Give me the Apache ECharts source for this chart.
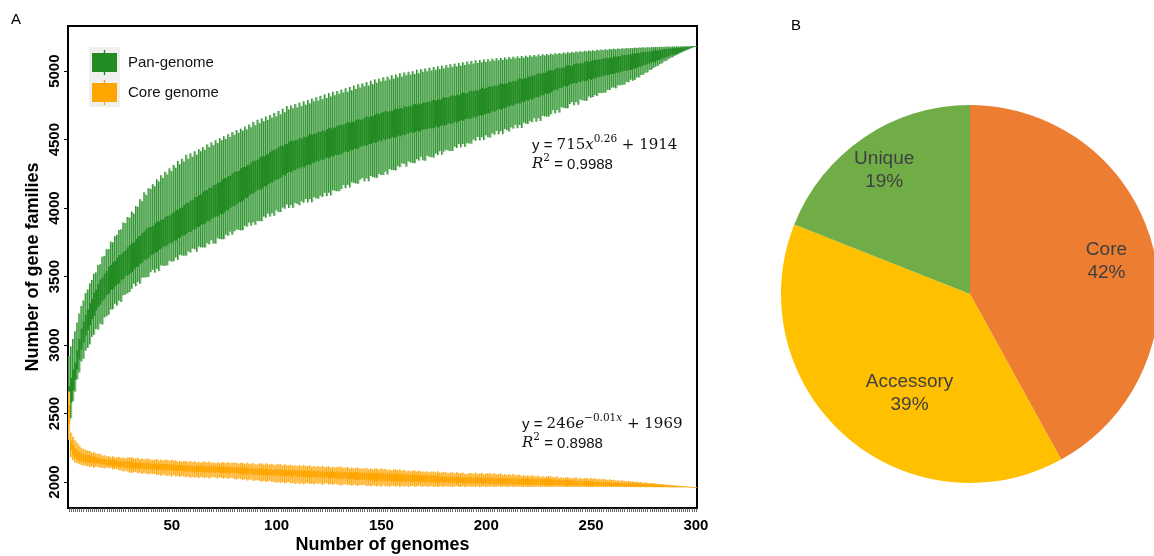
<!DOCTYPE html>
<html>
<head>
<meta charset="utf-8">
<script src="https://cdn.jsdelivr.net/npm/echarts@6/dist/echarts.min.js"></script>
<style>
  html, body { margin: 0; padding: 0; background: #fff; overflow: hidden; }
  #main { position: absolute; left: 0; top: 0; width: 1154px; height: 556px; }
</style>
</head>
<body>
<div id="main"></div>
<script>
// ---------- Panel A: accumulation curves (one box per number of genomes) ----------
const genomes = Array.from({ length: 300 }, (_, i) => String(i + 1));
const xLabelEvery = 50;
const yTicks = [2000, 2500, 3000, 3500, 4000, 4500, 5000];

// Pan-genome: whisker low, first quartile, third quartile, whisker high
const panLow = [
  2330, 2465, 2590, 2660, 2750, 2800, 2880, 2900, 2960, 2980,
  3005, 3060, 3075, 3118, 3113, 3156, 3150, 3202, 3210, 3222,
  3260, 3262, 3302, 3289, 3324, 3315, 3364, 3369, 3378, 3388,
  3411, 3447, 3430, 3461, 3448, 3493, 3494, 3495, 3498, 3532,
  3550, 3529, 3557, 3540, 3582, 3579, 3580, 3582, 3616, 3610,
  3612, 3639, 3622, 3660, 3655, 3653, 3653, 3684, 3676, 3705,
  3700, 3681, 3719, 3714, 3713, 3712, 3744, 3736, 3766, 3742,
  3741, 3780, 3774, 3773, 3773, 3806, 3798, 3828, 3806, 3831,
  3844, 3840, 3839, 3839, 3872, 3864, 3894, 3872, 3897, 3878,
  3906, 3905, 3905, 3938, 3930, 3960, 3938, 3963, 3944, 3984,
  3971, 3971, 4004, 3996, 4026, 4001, 4023, 4002, 4038, 4031,
  4021, 4050, 4040, 4067, 4042, 4065, 4043, 4080, 4072, 4069,
  4091, 4082, 4112, 4088, 4113, 4093, 4131, 4126, 4124, 4124,
  4140, 4169, 4146, 4170, 4151, 4189, 4183, 4180, 4178, 4208,
  4220, 4195, 4218, 4197, 4234, 4227, 4223, 4221, 4251, 4242,
  4242, 4266, 4246, 4285, 4279, 4277, 4276, 4308, 4299, 4328,
  4323, 4303, 4341, 4334, 4330, 4328, 4357, 4347, 4375, 4349,
  4346, 4382, 4375, 4372, 4369, 4399, 4388, 4416, 4390, 4414,
  4426, 4420, 4418, 4417, 4448, 4439, 4468, 4444, 4468, 4448,
  4474, 4472, 4471, 4502, 4492, 4520, 4495, 4518, 4497, 4533,
  4518, 4516, 4546, 4536, 4564, 4539, 4562, 4540, 4577, 4570,
  4560, 4590, 4581, 4609, 4584, 4607, 4586, 4624, 4617, 4614,
  4637, 4627, 4656, 4631, 4656, 4637, 4675, 4670, 4669, 4669,
  4686, 4715, 4692, 4717, 4698, 4737, 4731, 4730, 4730, 4761,
  4775, 4751, 4775, 4755, 4793, 4787, 4785, 4784, 4815, 4806,
  4811, 4826, 4819, 4841, 4840, 4842, 4845, 4864, 4862, 4881,
  4881, 4875, 4897, 4897, 4900, 4902, 4921, 4920, 4938, 4930,
  4937, 4955, 4954, 4972, 4974, 4989, 4991, 5008, 5012, 5025,
  5035, 5039, 5052, 5058, 5072, 5076, 5088, 5098, 5102, 5112,
  5119, 5127, 5134, 5142, 5150, 5156, 5163, 5169, 5176, 5182
];
const panQ1 = [
  2480, 2580, 2670, 2745, 2820, 2895, 2965, 3020, 3070, 3110,
  3147, 3190, 3214, 3252, 3279, 3295, 3323, 3338, 3366, 3376,
  3405, 3408, 3430, 3446, 3451, 3473, 3482, 3504, 3508, 3523,
  3533, 3554, 3569, 3573, 3594, 3602, 3623, 3624, 3636, 3655,
  3663, 3676, 3678, 3697, 3703, 3720, 3719, 3729, 3746, 3744,
  3763, 3763, 3780, 3784, 3801, 3800, 3810, 3827, 3825, 3842,
  3845, 3861, 3865, 3881, 3880, 3889, 3906, 3903, 3920, 3930,
  3938, 3941, 3958, 3956, 3967, 3985, 3984, 4002, 4014, 4015,
  4028, 4046, 4046, 4057, 4075, 4074, 4092, 4104, 4105, 4122,
  4134, 4133, 4143, 4160, 4158, 4175, 4186, 4186, 4203, 4207,
  4214, 4224, 4241, 4239, 4257, 4265, 4262, 4276, 4277, 4291,
  4288, 4302, 4297, 4311, 4319, 4316, 4330, 4331, 4345, 4341,
  4355, 4349, 4362, 4369, 4365, 4378, 4378, 4391, 4386, 4392,
  4394, 4407, 4414, 4410, 4423, 4423, 4436, 4431, 4437, 4450,
  4452, 4459, 4455, 4468, 4468, 4481, 4476, 4482, 4495, 4488,
  4502, 4497, 4509, 4508, 4520, 4514, 4519, 4531, 4524, 4536,
  4533, 4545, 4544, 4556, 4549, 4554, 4565, 4558, 4569, 4575,
  4577, 4576, 4587, 4581, 4585, 4597, 4589, 4601, 4606, 4601,
  4608, 4620, 4614, 4619, 4631, 4624, 4636, 4642, 4637, 4649,
  4656, 4650, 4655, 4667, 4660, 4673, 4680, 4675, 4688, 4688,
  4691, 4697, 4709, 4703, 4716, 4723, 4719, 4731, 4731, 4744,
  4740, 4753, 4747, 4760, 4767, 4763, 4776, 4776, 4789, 4784,
  4798, 4792, 4805, 4812, 4809, 4823, 4824, 4838, 4834, 4841,
  4844, 4858, 4866, 4863, 4877, 4878, 4892, 4888, 4895, 4907,
  4908, 4914, 4909, 4921, 4920, 4932, 4926, 4931, 4943, 4936,
  4948, 4947, 4957, 4957, 4964, 4964, 4972, 4970, 4978, 4979,
  4982, 4990, 4988, 4996, 4997, 5004, 5003, 5012, 5009, 5018,
  5022, 5023, 5034, 5033, 5044, 5046, 5055, 5056, 5067, 5066,
  5075, 5082, 5085, 5093, 5095, 5103, 5107, 5116, 5118, 5125,
  5131, 5136, 5142, 5148, 5154, 5159, 5165, 5171, 5176, 5182
];
const panQ3 = [
  2700, 2760, 2820, 2870, 2960, 3045, 3120, 3170, 3220, 3260,
  3305, 3336, 3382, 3404, 3443, 3477, 3492, 3520, 3540, 3574,
  3586, 3607, 3614, 3638, 3657, 3662, 3680, 3690, 3714, 3730,
  3744, 3749, 3775, 3792, 3797, 3818, 3830, 3849, 3860, 3862,
  3869, 3888, 3902, 3902, 3915, 3917, 3936, 3945, 3946, 3960,
  3971, 3985, 3987, 4000, 4005, 4024, 4037, 4038, 4054, 4057,
  4082, 4082, 4095, 4100, 4119, 4130, 4131, 4147, 4149, 4168,
  4172, 4185, 4190, 4209, 4219, 4219, 4234, 4235, 4253, 4266,
  4268, 4272, 4290, 4300, 4300, 4315, 4316, 4334, 4347, 4345,
  4352, 4369, 4379, 4378, 4393, 4393, 4411, 4423, 4422, 4433,
  4445, 4455, 4454, 4469, 4469, 4483, 4493, 4488, 4496, 4497,
  4512, 4508, 4520, 4517, 4531, 4541, 4536, 4544, 4545, 4559,
  4556, 4567, 4563, 4577, 4586, 4581, 4588, 4588, 4602, 4607,
  4609, 4606, 4619, 4628, 4623, 4630, 4630, 4644, 4649, 4645,
  4647, 4661, 4670, 4664, 4672, 4671, 4685, 4691, 4686, 4696,
  4701, 4709, 4703, 4710, 4709, 4722, 4727, 4722, 4731, 4727,
  4744, 4738, 4745, 4743, 4756, 4760, 4755, 4764, 4760, 4772,
  4769, 4776, 4774, 4787, 4791, 4786, 4795, 4791, 4803, 4811,
  4808, 4806, 4819, 4824, 4819, 4828, 4824, 4837, 4845, 4838,
  4840, 4853, 4858, 4852, 4862, 4858, 4870, 4878, 4872, 4878,
  4886, 4891, 4885, 4895, 4891, 4903, 4911, 4905, 4911, 4910,
  4924, 4919, 4930, 4926, 4939, 4948, 4942, 4949, 4949, 4962,
  4958, 4969, 4965, 4978, 4986, 4981, 4988, 4987, 5001, 5006,
  5007, 5004, 5017, 5025, 5020, 5027, 5026, 5040, 5045, 5039,
  5040, 5052, 5060, 5053, 5059, 5057, 5069, 5073, 5067, 5076,
  5080, 5084, 5082, 5087, 5087, 5094, 5098, 5095, 5101, 5099,
  5108, 5105, 5110, 5109, 5117, 5120, 5118, 5123, 5122, 5129,
  5128, 5132, 5131, 5138, 5142, 5139, 5144, 5142, 5149, 5153,
  5152, 5152, 5157, 5157, 5162, 5163, 5164, 5167, 5168, 5168,
  5170, 5172, 5173, 5174, 5176, 5177, 5178, 5180, 5181, 5182
];
const panHigh = [
  2920, 2990, 3045, 3100, 3165, 3230, 3285, 3325, 3380, 3405,
  3450, 3475, 3520, 3530, 3585, 3590, 3645, 3650, 3700, 3700,
  3755, 3750, 3795, 3805, 3840, 3845, 3895, 3890, 3935, 3930,
  3975, 3960, 4015, 4010, 4065, 4050, 4115, 4095, 4145, 4140,
  4175, 4160, 4210, 4195, 4240, 4220, 4265, 4245, 4290, 4270,
  4315, 4295, 4345, 4320, 4360, 4340, 4390, 4360, 4400, 4375,
  4415, 4390, 4430, 4415, 4445, 4425, 4465, 4445, 4480, 4460,
  4495, 4475, 4510, 4495, 4525, 4505, 4540, 4520, 4555, 4535,
  4570, 4550, 4580, 4565, 4595, 4575, 4610, 4590, 4630, 4605,
  4645, 4620, 4655, 4635, 4670, 4645, 4680, 4660, 4695, 4670,
  4710, 4685, 4725, 4700, 4745, 4720, 4750, 4730, 4760, 4735,
  4770, 4745, 4780, 4755, 4790, 4765, 4800, 4780, 4810, 4785,
  4820, 4795, 4830, 4805, 4840, 4815, 4850, 4825, 4855, 4835,
  4865, 4845, 4875, 4850, 4885, 4860, 4895, 4870, 4905, 4880,
  4910, 4890, 4920, 4895, 4930, 4905, 4940, 4915, 4945, 4925,
  4955, 4930, 4960, 4940, 4970, 4945, 4975, 4955, 4985, 4960,
  4990, 4970, 4995, 4975, 5000, 4980, 5010, 4985, 5015, 4995,
  5020, 5000, 5025, 5005, 5030, 5010, 5035, 5015, 5040, 5020,
  5045, 5025, 5050, 5030, 5055, 5035, 5060, 5040, 5065, 5045,
  5070, 5050, 5075, 5055, 5080, 5060, 5082, 5065, 5086, 5068,
  5088, 5072, 5091, 5076, 5094, 5080, 5097, 5083, 5100, 5086,
  5103, 5090, 5106, 5093, 5108, 5096, 5111, 5099, 5113, 5102,
  5116, 5105, 5118, 5108, 5121, 5111, 5123, 5114, 5126, 5117,
  5128, 5120, 5131, 5123, 5133, 5126, 5136, 5129, 5139, 5132,
  5141, 5135, 5144, 5138, 5146, 5140, 5149, 5143, 5151, 5146,
  5153, 5148, 5156, 5151, 5158, 5153, 5160, 5155, 5162, 5158,
  5164, 5160, 5166, 5162, 5167, 5164, 5169, 5166, 5170, 5168,
  5172, 5169, 5173, 5171, 5174, 5172, 5175, 5173, 5176, 5175,
  5177, 5176, 5178, 5177, 5179, 5178, 5180, 5179, 5180, 5180,
  5181, 5181, 5181, 5182, 5182, 5182, 5182, 5182, 5182, 5182
];

// Core genome: whisker low, first quartile, third quartile, whisker high
const coreLow = [
  2310, 2180, 2160, 2145, 2138, 2130, 2125, 2121, 2118, 2115,
  2109, 2114, 2104, 2111, 2112, 2103, 2106, 2099, 2106, 2101,
  2103, 2091, 2096, 2096, 2085, 2086, 2077, 2083, 2076, 2069,
  2066, 2072, 2074, 2064, 2067, 2059, 2067, 2061, 2056, 2061,
  2059, 2060, 2051, 2053, 2046, 2054, 2049, 2044, 2050, 2040,
  2050, 2041, 2044, 2037, 2045, 2040, 2035, 2041, 2031, 2038,
  2032, 2036, 2029, 2038, 2034, 2029, 2036, 2026, 2034, 2037,
  2032, 2026, 2035, 2030, 2026, 2032, 2023, 2030, 2031, 2022,
  2018, 2026, 2021, 2015, 2021, 2011, 2017, 2019, 2009, 2012,
  2014, 2008, 2003, 2009, 1999, 2006, 2008, 1999, 2002, 1995,
  1999, 1994, 2000, 1990, 1997, 1999, 1990, 1993, 1986, 1995,
  1986, 1993, 1984, 1991, 1994, 1985, 1989, 1983, 1991, 1987,
  1990, 1980, 1988, 1990, 1982, 1985, 1979, 1987, 1983, 1978,
  1975, 1983, 1985, 1977, 1980, 1973, 1982, 1977, 1973, 1979,
  1977, 1980, 1971, 1975, 1968, 1976, 1972, 1968, 1974, 1965,
  1976, 1968, 1971, 1965, 1974, 1970, 1966, 1972, 1963, 1971,
  1967, 1972, 1965, 1969, 1971, 1965, 1968, 1972, 1967, 1965,
  1971, 1965, 1967, 1971, 1964, 1968, 1963, 1969, 1967, 1965,
  1969, 1965, 1968, 1964, 1967, 1970, 1964, 1966, 1968, 1963,
  1966, 1969, 1964, 1967, 1965, 1968, 1963, 1966, 1969, 1964,
  1966, 1964, 1968, 1963, 1966, 1968, 1964, 1965, 1967, 1963,
  1965, 1967, 1963, 1966, 1964, 1967, 1963, 1965, 1966, 1963,
  1964, 1966, 1963, 1965, 1967, 1963, 1964, 1966, 1963, 1965,
  1963, 1965, 1964, 1966, 1963, 1964, 1965, 1963, 1964, 1963,
  1964, 1963, 1965, 1963, 1964, 1963, 1965, 1963, 1963, 1964,
  1963, 1964, 1963, 1963, 1964, 1963, 1963, 1964, 1963, 1963,
  1963, 1963, 1964, 1963, 1963, 1962, 1963, 1963, 1962, 1963,
  1962, 1963, 1962, 1962, 1963, 1962, 1962, 1962, 1963, 1962,
  1962, 1962, 1962, 1962, 1962, 1962, 1962, 1962, 1962, 1962,
  1962, 1962, 1962, 1962, 1962, 1962, 1962, 1962, 1962, 1962
];
const coreQ1 = [
  2420, 2230, 2200, 2175, 2165, 2155, 2148, 2145, 2143, 2142,
  2139, 2143, 2135, 2137, 2136, 2128, 2128, 2129, 2121, 2118,
  2120, 2111, 2115, 2115, 2107, 2109, 2111, 2104, 2102, 2100,
  2097, 2101, 2102, 2095, 2097, 2100, 2094, 2093, 2092, 2096,
  2093, 2094, 2087, 2089, 2092, 2086, 2084, 2083, 2087, 2079,
  2085, 2078, 2080, 2084, 2078, 2076, 2075, 2079, 2071, 2075,
  2070, 2073, 2076, 2071, 2069, 2069, 2073, 2066, 2070, 2072,
  2069, 2072, 2067, 2065, 2065, 2069, 2062, 2066, 2067, 2060,
  2066, 2060, 2058, 2057, 2061, 2053, 2057, 2059, 2052, 2054,
  2052, 2050, 2049, 2053, 2046, 2050, 2051, 2045, 2047, 2050,
  2043, 2043, 2047, 2039, 2044, 2045, 2038, 2041, 2044, 2038,
  2037, 2041, 2033, 2038, 2039, 2033, 2035, 2038, 2033, 2031,
  2035, 2028, 2032, 2034, 2027, 2029, 2032, 2026, 2024, 2023,
  2021, 2025, 2026, 2019, 2021, 2024, 2018, 2016, 2015, 2019,
  2016, 2018, 2011, 2013, 2016, 2010, 2008, 2007, 2012, 2004,
  2011, 2004, 2006, 2010, 2004, 2003, 2002, 2007, 1999, 2004,
  1999, 2002, 2005, 2000, 1999, 1998, 2003, 1995, 2000, 2001,
  1998, 2002, 1996, 1995, 1994, 1999, 1991, 1996, 1998, 1991,
  1998, 1992, 1991, 1991, 1995, 1988, 1993, 1994, 1988, 1991,
  1989, 1988, 1988, 1992, 1985, 1990, 1991, 1985, 1988, 1991,
  1985, 1985, 1989, 1982, 1987, 1988, 1982, 1985, 1988, 1983,
  1982, 1986, 1979, 1984, 1985, 1979, 1982, 1986, 1980, 1979,
  1984, 1976, 1981, 1983, 1977, 1979, 1983, 1978, 1976, 1976,
  1974, 1979, 1980, 1974, 1977, 1980, 1975, 1974, 1974, 1978,
  1976, 1978, 1971, 1974, 1978, 1973, 1971, 1971, 1976, 1968,
  1974, 1971, 1971, 1973, 1970, 1972, 1969, 1972, 1970, 1968,
  1970, 1969, 1968, 1969, 1968, 1969, 1967, 1966, 1968, 1967,
  1966, 1966, 1966, 1965, 1965, 1965, 1964, 1964, 1964, 1964,
  1964, 1963, 1963, 1963, 1963, 1963, 1962, 1962, 1962, 1962,
  1962, 1962, 1962, 1962, 1962, 1962, 1962, 1962, 1962, 1962
];
const coreQ3 = [
  2560, 2300, 2270, 2245, 2232, 2220, 2210, 2203, 2198, 2195,
  2193, 2184, 2187, 2177, 2178, 2171, 2174, 2169, 2165, 2167,
  2159, 2163, 2155, 2157, 2150, 2155, 2151, 2148, 2151, 2149,
  2149, 2141, 2144, 2138, 2143, 2140, 2138, 2141, 2140, 2134,
  2132, 2135, 2129, 2134, 2131, 2129, 2132, 2131, 2126, 2131,
  2127, 2121, 2126, 2123, 2121, 2124, 2124, 2118, 2123, 2115,
  2113, 2119, 2116, 2115, 2118, 2118, 2112, 2118, 2110, 2114,
  2115, 2112, 2111, 2114, 2114, 2108, 2114, 2106, 2109, 2103,
  2106, 2104, 2107, 2106, 2100, 2105, 2097, 2101, 2095, 2100,
  2096, 2099, 2098, 2092, 2098, 2090, 2093, 2088, 2093, 2091,
  2093, 2092, 2087, 2092, 2084, 2088, 2082, 2088, 2085, 2083,
  2087, 2081, 2086, 2079, 2082, 2077, 2082, 2079, 2078, 2081,
  2075, 2081, 2073, 2077, 2071, 2077, 2074, 2073, 2076, 2076,
  2076, 2069, 2073, 2067, 2073, 2070, 2069, 2073, 2072, 2067,
  2065, 2069, 2064, 2069, 2067, 2065, 2069, 2068, 2063, 2068,
  2064, 2059, 2064, 2061, 2060, 2063, 2062, 2057, 2062, 2054,
  2052, 2057, 2054, 2053, 2056, 2055, 2049, 2054, 2046, 2049,
  2049, 2047, 2045, 2048, 2047, 2041, 2046, 2038, 2041, 2036,
  2039, 2037, 2040, 2040, 2034, 2040, 2033, 2036, 2031, 2036,
  2033, 2037, 2036, 2031, 2037, 2029, 2033, 2028, 2033, 2031,
  2034, 2033, 2028, 2034, 2026, 2030, 2025, 2030, 2028, 2026,
  2030, 2025, 2030, 2023, 2027, 2021, 2027, 2024, 2023, 2027,
  2021, 2027, 2020, 2023, 2018, 2023, 2021, 2020, 2023, 2023,
  2023, 2015, 2019, 2013, 2018, 2015, 2013, 2016, 2015, 2010,
  2008, 2011, 2005, 2010, 2007, 2006, 2009, 2008, 2002, 2007,
  2003, 2000, 2003, 2000, 1998, 2001, 2000, 1997, 1999, 1994,
  1994, 1996, 1994, 1993, 1995, 1993, 1991, 1993, 1990, 1991,
  1990, 1988, 1989, 1987, 1986, 1987, 1985, 1986, 1984, 1983,
  1981, 1980, 1979, 1977, 1976, 1975, 1974, 1972, 1971, 1970,
  1969, 1968, 1968, 1967, 1966, 1965, 1964, 1963, 1963, 1962
];
const coreHigh = [
  2660, 2360, 2330, 2305, 2285, 2265, 2250, 2240, 2235, 2228,
  2226, 2214, 2218, 2206, 2205, 2206, 2192, 2196, 2186, 2190,
  2180, 2188, 2179, 2180, 2184, 2173, 2179, 2172, 2178, 2179,
  2180, 2171, 2172, 2176, 2165, 2171, 2164, 2170, 2170, 2162,
  2162, 2163, 2167, 2157, 2163, 2156, 2162, 2162, 2154, 2162,
  2155, 2159, 2148, 2154, 2147, 2153, 2153, 2145, 2153, 2145,
  2151, 2141, 2147, 2141, 2147, 2148, 2140, 2149, 2140, 2142,
  2137, 2143, 2137, 2143, 2144, 2136, 2145, 2137, 2138, 2143,
  2139, 2133, 2139, 2140, 2132, 2141, 2132, 2134, 2138, 2128,
  2128, 2135, 2135, 2127, 2136, 2127, 2128, 2133, 2122, 2128,
  2129, 2129, 2121, 2129, 2121, 2122, 2126, 2116, 2122, 2115,
  2123, 2115, 2124, 2115, 2116, 2121, 2110, 2117, 2110, 2116,
  2110, 2118, 2109, 2111, 2115, 2104, 2111, 2104, 2110, 2111,
  2112, 2103, 2105, 2109, 2098, 2104, 2098, 2104, 2104, 2097,
  2097, 2098, 2103, 2092, 2098, 2092, 2098, 2098, 2090, 2099,
  2092, 2096, 2085, 2091, 2084, 2091, 2091, 2083, 2091, 2082,
  2088, 2078, 2084, 2077, 2083, 2083, 2076, 2084, 2075, 2076,
  2071, 2077, 2070, 2076, 2076, 2069, 2077, 2068, 2069, 2074,
  2070, 2063, 2069, 2070, 2062, 2071, 2063, 2064, 2069, 2058,
  2059, 2066, 2066, 2059, 2068, 2059, 2061, 2066, 2055, 2062,
  2063, 2063, 2056, 2065, 2056, 2058, 2062, 2051, 2057, 2050,
  2058, 2050, 2058, 2049, 2050, 2054, 2043, 2049, 2043, 2049,
  2042, 2050, 2041, 2042, 2046, 2035, 2042, 2035, 2041, 2041,
  2042, 2034, 2035, 2040, 2029, 2035, 2029, 2035, 2035, 2028,
  2028, 2030, 2034, 2023, 2030, 2023, 2029, 2030, 2022, 2031,
  2024, 2026, 2020, 2023, 2019, 2022, 2020, 2015, 2019, 2014,
  2016, 2009, 2012, 2008, 2011, 2009, 2004, 2008, 2003, 2003,
  1999, 2001, 1998, 2000, 1995, 1996, 1994, 1992, 1992, 1990,
  1989, 1986, 1986, 1983, 1983, 1980, 1980, 1977, 1977, 1975,
  1974, 1972, 1971, 1970, 1968, 1967, 1966, 1964, 1963, 1962
];

const seriesNames = ['Pan-genome', 'Core genome'];

// ---------- Panel B: gene family composition ----------
const pieNames = ['Core', 'Accessory', 'Unique'];
const pieShares = [42, 39, 19];
const pieColors = ['#ED7D31', '#FFC000', '#70AD47'];

const sansFont = '"Liberation Sans", Arial, sans-serif';
const serifFont = '"DejaVu Serif", "Liberation Serif", serif';

function boxItems(low, q1, q3, high) {
  return genomes.map((g, i) => [i, low[i], q1[i], q3[i], high[i]]);
}

// Each genome count is one thin column: pale whisker span with a darker stroke, solid interquartile box
function makeRenderer(pale, solid) {
  return function (params, api) {
    const idx = api.value(0);
    const lo = api.coord([idx, api.value(1)]);
    const b1 = api.coord([idx, api.value(2)]);
    const b3 = api.coord([idx, api.value(3)]);
    const hi = api.coord([idx, api.value(4)]);
    const bw = api.size([1, 0])[0];
    const x0 = lo[0] - bw / 2;
    return {
      type: 'group',
      children: [
        { type: 'rect', shape: { x: x0, y: hi[1], width: bw, height: Math.max(lo[1] - hi[1], 0.6) },
          style: { fill: pale } },
        { type: 'rect', shape: { x: x0, y: hi[1], width: bw * 0.4, height: Math.max(lo[1] - hi[1], 0.6) },
          style: { fill: solid } },
        { type: 'rect', shape: { x: x0, y: b3[1], width: bw, height: Math.max(b1[1] - b3[1], 0.6) },
          style: { fill: solid } }
      ]
    };
  };
}

const boxIcon = 'path://M0,3H25V22H0Z M11.8,0H13.2V25H11.8Z';
const richEq = {
  s: { fontFamily: sansFont, fontSize: 15, lineHeight: 19, verticalAlign: 'bottom', fill: '#111' },
  m: { fontFamily: serifFont, fontSize: 15, lineHeight: 19, verticalAlign: 'bottom', fill: '#111' },
  i: { fontFamily: serifFont, fontSize: 15, fontStyle: 'italic', lineHeight: 19, verticalAlign: 'bottom', fill: '#111' },
  p: { fontFamily: serifFont, fontSize: 10.5, lineHeight: 12, verticalAlign: 'top', fill: '#111' },
  pi: { fontFamily: serifFont, fontSize: 10.5, fontStyle: 'italic', lineHeight: 12, verticalAlign: 'top', fill: '#111' }
};

// Label nudges (dx, dy) from the default inside position of each slice
const labelNudge = [[42, -8], [4, 26], [-31, -43]];

const chart = echarts.init(document.getElementById('main'));
chart.setOption({
  animation: false,
  backgroundColor: '#ffffff',
  grid: { left: 68, right: 457, top: 26, bottom: 48, show: true, borderColor: '#000', borderWidth: 2,
          backgroundColor: 'transparent', containLabel: false, outerBoundsMode: 'none' },
  legend: {
    orient: 'vertical', left: 92, top: 50, padding: 0, itemWidth: 25, itemHeight: 25, itemGap: 5, z: 6,
    data: seriesNames.map(n => ({ name: n, icon: boxIcon })),
    textStyle: { fontFamily: sansFont, fontSize: 15, color: '#111', padding: [0, 0, 0, 6] }
  },
  xAxis: {
    type: 'category', data: genomes, boundaryGap: true,
    name: 'Number of genomes', nameLocation: 'middle', nameGap: 28, nameMoveOverlap: false,
    nameTextStyle: { fontFamily: sansFont, fontSize: 18, fontWeight: 'bold', color: '#000' },
    axisLine: { lineStyle: { color: '#000', width: 2 } },
    axisTick: { show: true, interval: 0, alignWithLabel: true, length: 4, lineStyle: { color: '#444', width: 0.8 } },
    axisLabel: { interval: (i) => (i + 1) % xLabelEvery === 0, margin: 10,
                 fontFamily: sansFont, fontSize: 15, fontWeight: 'bold', color: '#000' },
    splitLine: { show: false }
  },
  yAxis: {
    type: 'value', min: 1810, max: 5330,
    name: 'Number of gene families', nameLocation: 'middle', nameGap: 26, nameRotate: 90, nameMoveOverlap: false,
    nameTextStyle: { fontFamily: sansFont, fontSize: 18, fontWeight: 'bold', color: '#000' },
    axisLine: { show: true, lineStyle: { color: '#000', width: 2 } },
    axisTick: { show: true, length: 4, customValues: yTicks, lineStyle: { color: '#000', width: 1 } },
    axisLabel: { rotate: 90, margin: 6, customValues: yTicks, formatter: (v) => String(v),
                 fontFamily: sansFont, fontSize: 15, fontWeight: 'bold', color: '#000' },
    splitLine: { show: false }
  },
  graphic: [
    { type: 'rect', z: 1, shape: { x: 89, y: 47, width: 31, height: 60 }, style: { fill: '#efefef' } },
    { type: 'text', left: 11, top: 12, style: { text: 'A', font: '15px ' + sansFont, fill: '#000' } },
    { type: 'text', left: 791, top: 18, style: { text: 'B', font: '15px ' + sansFont, fill: '#000' } },
    { type: 'text', left: 532, top: 134, z: 10,
      style: { text: '{s|y = }{m|715}{i|x}{p|0.26}{m| + 1914}\n{i|R}{p|2}{s| = 0.9988}', rich: richEq } },
    { type: 'text', left: 522, top: 413, z: 10,
      style: { text: '{s|y = }{m|246}{i|e}{p|\u22120.01}{pi|x}{m| + 1969}\n{i|R}{p|2}{s| = 0.8988}', rich: richEq } }
  ],
  series: [
    {
      name: seriesNames[0], type: 'custom', clip: true,
      itemStyle: { color: '#228B22' },
      encode: { x: 0, y: [1, 2, 3, 4] },
      renderItem: makeRenderer('#82c082', '#228B22'),
      data: boxItems(panLow, panQ1, panQ3, panHigh)
    },
    {
      name: seriesNames[1], type: 'custom', clip: true,
      itemStyle: { color: '#FFA500' },
      encode: { x: 0, y: [1, 2, 3, 4] },
      renderItem: makeRenderer('#FFCB6E', '#FFA500'),
      data: boxItems(coreLow, coreQ1, coreQ3, coreHigh)
    },
    {
      type: 'pie',
      center: [970, 294],
      radius: 189,
      startAngle: 90,
      clockwise: true,
      silent: true,
      data: pieNames.map((n, i) => ({ name: n, value: pieShares[i], itemStyle: { color: pieColors[i] } })),
      itemStyle: { borderWidth: 0 },
      label: {
        position: 'inside', formatter: '{b}\n{d}%',
        fontFamily: sansFont, fontSize: 19, lineHeight: 23, color: '#404040', align: 'center'
      },
      labelLine: { show: false },
      labelLayout: (p) => ({ dx: labelNudge[p.dataIndex][0], dy: labelNudge[p.dataIndex][1] })
    }
  ]
});
</script>
</body>
</html>
